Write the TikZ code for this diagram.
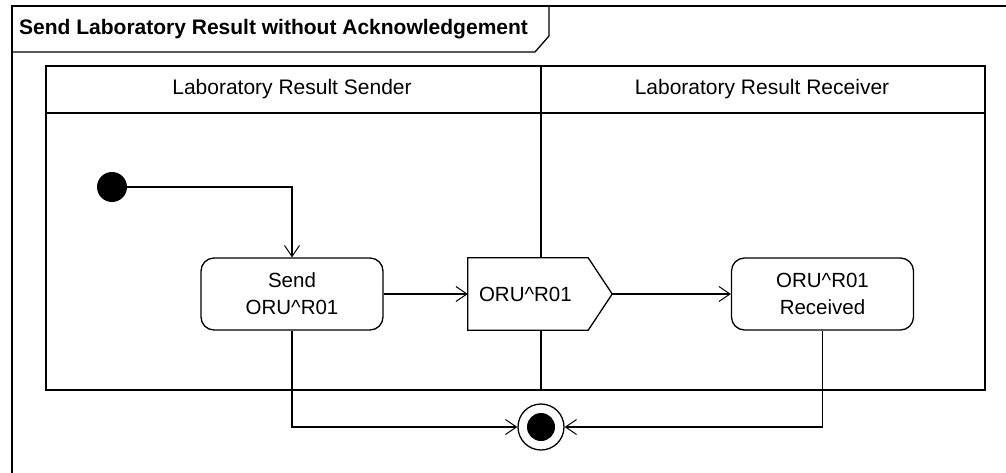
\documentclass[tikz,border=0pt]{standalone}
\usepackage{fontspec}
\setmainfont{Liberation Sans}
\usetikzlibrary{arrows.meta}
\tikzset{
  every picture/.style={x=1pt,y=-1pt},
  ln/.style={line width=1.3pt, line join=miter},
  txt/.style={font=\fontsize{21}{27}\selectfont, inner sep=0pt, align=center},
  action/.style={ln, draw, fill=white, rounded corners=13pt, minimum width=182pt, minimum height=72pt, inner sep=0pt, align=center, font=\fontsize{20.5}{27}\selectfont},
  flow/.style={ln, -{Straight Barb[length=11pt, width=15pt, line width=1pt]}},
}
\begin{document}
\begin{tikzpicture}
\useasboundingbox (0,0) rectangle (1006,472);
\fill[white] (0,0) rectangle (1006,472);
% outer frame
\draw[ln] (1012,6) -- (12,6) -- (12,478);
% title tab
\draw[ln] (12,6) -- (549,6) -- (549,36) -- (535,52) -- (12,52);
\node[txt, anchor=west, font=\bfseries\fontsize{21}{24}\selectfont] (title) at (19,29) {Send Laboratory Result without Acknowledgement};
% swimlanes
\draw[ln] (46,66) rectangle (985,390);
\draw[ln] (46,113) -- (985,113);
\draw[ln] (541,66) -- (541,390);
\node[txt] (lane1) at (292,89) {Laboratory Result Sender};
\node[txt] (lane2) at (762,89) {Laboratory Result Receiver};
% nodes
\node[circle, fill=black, minimum size=30pt, inner sep=0pt] (init) at (112,187) {};
\node[action] (send) at (292,294) {Send\\ORU\textasciicircum R01};
\node[action] (recv) at (822.5,294) {ORU\textasciicircum R01\\Received};
\node[minimum width=144pt, minimum height=72pt, inner sep=0pt] (sig) at (540,294) {};
\draw[ln, fill=white] (sig.north west) -- ([xshift=-24pt]sig.north east) -- (sig.east) -- ([xshift=-24pt]sig.south east) -- (sig.south west) -- cycle;
\node[txt, anchor=west, font=\fontsize{20.5}{27}\selectfont] (sigtext) at ([xshift=11pt]sig.west) {ORU\textasciicircum R01};
\node[circle, draw, ln, fill=white, minimum size=46pt, inner sep=0pt] (fin) at (541,427) {};
\fill[black] (fin.center) circle (14pt);
% flows
\draw[flow] (init.east) -| (send.north);
\draw[flow] (send.east) -- (sig.west);
\draw[flow] (sig.east) -- (recv.west);
\draw[flow] (send.south) |- (fin.west);
\draw[flow] (recv.south) |- (fin.east);
\end{tikzpicture}
\end{document}
